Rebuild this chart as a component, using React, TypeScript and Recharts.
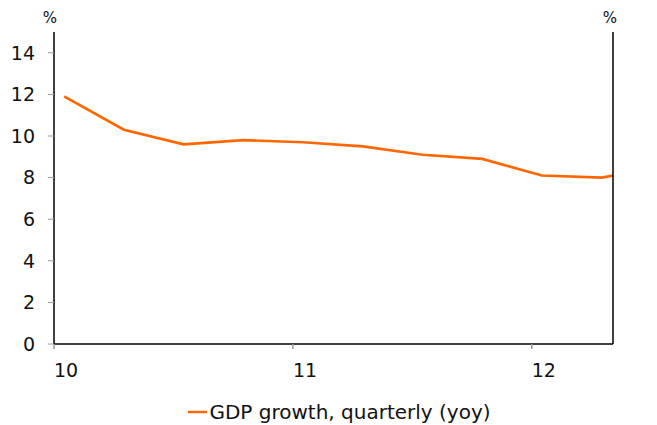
import { LineChart, Line, XAxis, YAxis, Legend } from 'recharts';

// quarters since start of 2010, plotted a little after the quarter start
const quarters = ['10Q1', '10Q2', '10Q3', '10Q4', '11Q1', '11Q2', '11Q3', '11Q4', '12Q1', '12Q2', '12Q3'];
const gdpGrowth = [11.9, 10.3, 9.6, 9.8, 9.7, 9.5, 9.1, 8.9, 8.1, 8.0, 8.5];
const xTicks = [0, 4, 8];
const xTickLabels = ['10', '11', '12'];
const yTicks = [0, 2, 4, 6, 8, 10, 12, 14];

const ORANGE = '#ff6600';
const FONT = '"DejaVu Sans", Verdana, sans-serif';

const chartData = quarters.map((q, i) => ({
  quarter: q,
  pos: i + 0.17,
  value: gdpGrowth[i],
}));

function XTick({ x, y, payload }: any) {
  const idx = xTicks.indexOf(payload.value);
  return (
    <text x={x} y={y} dy="0.71em" textAnchor="start" fontSize={19} fill="#111" fontFamily={FONT}>
      {xTickLabels[idx]}
    </text>
  );
}

function PctLabel({ viewBox, side }: any) {
  const cx = side === 'left' ? viewBox.x + viewBox.width - 4 : viewBox.x - 3;
  return (
    <text x={cx} y={viewBox.y - 9} textAnchor="middle" fontSize={15} fill="#111" fontFamily={FONT}>
      %
    </text>
  );
}

function LegendContent() {
  return (
    <div style={{ display: 'flex', justifyContent: 'center', alignItems: 'center', fontFamily: FONT, fontSize: 20, color: '#111', paddingLeft: 22, paddingTop: 11 }}>
      <svg width={21} height={20}>
        <line x1={0} y1={10} x2={19} y2={10} stroke={ORANGE} strokeWidth={2.5} />
      </svg>
      <span>GDP growth, quarterly (yoy)</span>
    </div>
  );
}

export default function App() {
  return (
    <div style={{ position: 'absolute', left: 0, top: 0, background: '#fff' }}>
      <LineChart width={657} height={425} data={chartData} margin={{ top: 32, right: 0, bottom: 0, left: 0 }}>
        <XAxis
          dataKey="pos"
          type="number"
          domain={[0, 9.36]}
          allowDataOverflow
          ticks={xTicks}
          tick={<XTick />}
          tickSize={5}
          tickMargin={15}
          height={45}
          axisLine={{ stroke: '#000', strokeWidth: 1.5 }}
          tickLine={{ stroke: '#999', strokeWidth: 1.5 }}
        />
        <YAxis
          yAxisId="left"
          orientation="left"
          domain={[0, 15]}
          ticks={yTicks}
          width={54}
          tickSize={6}
          tickMargin={13}
          tick={{ fontSize: 19, fill: '#111', fontFamily: FONT }}
          axisLine={{ stroke: '#000', strokeWidth: 1.5 }}
          tickLine={{ stroke: '#999' }}
          label={<PctLabel side="left" />}
        />
        <YAxis
          yAxisId="right"
          orientation="right"
          domain={[0, 15]}
          ticks={yTicks}
          width={44}
          tickSize={6}
          tickMargin={14}
          tick={{ fontSize: 19, fill: '#111', fontFamily: FONT, textAnchor: 'start' }}
          axisLine={{ stroke: '#000', strokeWidth: 1.5 }}
          tickLine={{ stroke: '#999' }}
          label={<PctLabel side="right" />}
        />
        <Legend verticalAlign="bottom" height={36} content={<LegendContent />} />
        <Line
          yAxisId="left"
          dataKey="value"
          stroke={ORANGE}
          strokeWidth={2.6}
          dot={false}
          type="linear"
          isAnimationActive={false}
        />
      </LineChart>
    </div>
  );
}
